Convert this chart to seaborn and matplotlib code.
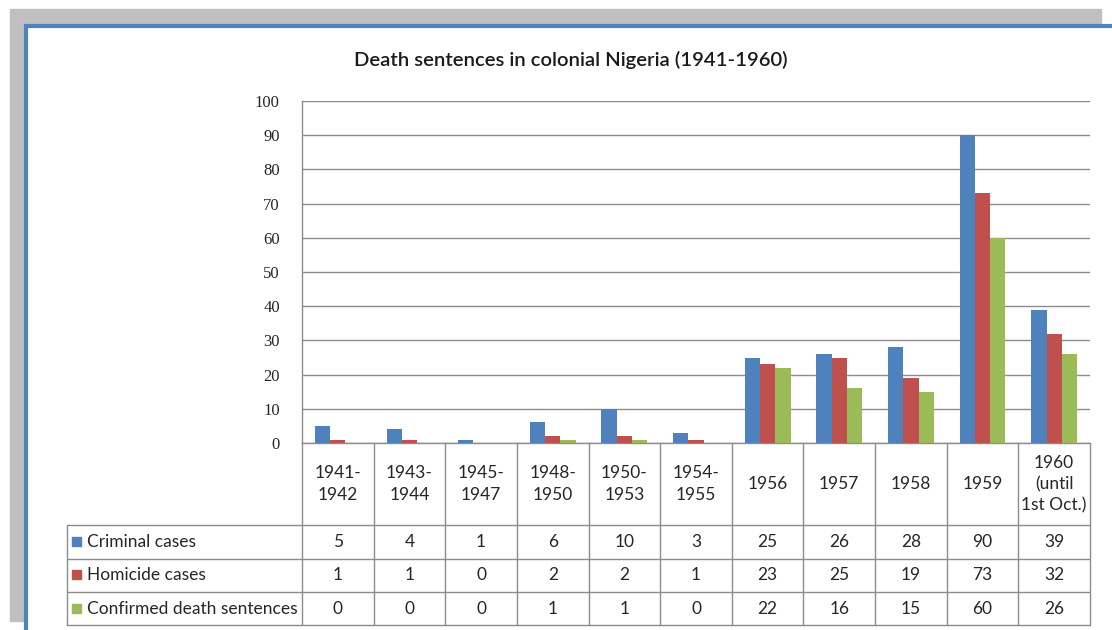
import pandas as pd
import matplotlib
matplotlib.use("Agg")
import matplotlib.pyplot as plt
import seaborn as sns
from matplotlib.patches import Rectangle

categories = ["1941-\n1942", "1943-\n1944", "1945-\n1947", "1948-\n1950", "1950-\n1953",
              "1954-\n1955", "1956", "1957", "1958", "1959", "1960\n(until\n1st Oct.)"]
criminal = [5, 4, 1, 6, 10, 3, 25, 26, 28, 90, 39]
homicide = [1, 1, 0, 2, 2, 1, 23, 25, 19, 73, 32]
confirmed = [0, 0, 0, 1, 1, 0, 22, 16, 15, 60, 26]
series_names = ["Criminal cases", "Homicide cases", "Confirmed death sentences"]
colors = ["#4f81bd", "#c0504d", "#9bbb59"]

df = pd.DataFrame({"cat": categories, series_names[0]: criminal,
                   series_names[1]: homicide, series_names[2]: confirmed})
long_df = df.melt(id_vars="cat", var_name="series", value_name="value")

sns.set_theme(style="white")
plt.rcParams["font.family"] = ["Lato", "DejaVu Sans"]

W, H = 1112, 630
fig = plt.figure(figsize=(W / 100, H / 100), dpi=100)

# background frame, in pixel coordinates
bg = fig.add_axes([0, 0, 1, 1])
bg.set_xlim(0, W)
bg.set_ylim(H, 0)
bg.axis("off")
bg.add_patch(Rectangle((10, 9), 1091, 612, color="#c0c0c0", zorder=0))
bg.add_patch(Rectangle((26, 26), W, H, facecolor="white", edgecolor="#4f81bd", lw=3, zorder=1))

# plot area
x0, x1, ytop, ybot = 302, 1090, 101, 443
ax = fig.add_axes([x0 / W, 1 - ybot / H, (x1 - x0) / W, (ybot - ytop) / H])
sns.barplot(data=long_df, x="cat", y="value", hue="series", palette=colors,
            width=0.64, saturation=1, linewidth=0, ax=ax, legend=False, zorder=3)
ax.set_ylim(0, 100)
ax.set_xlim(-0.5, len(categories) - 0.5)
ax.set_yticks(range(0, 101, 10))
ax.set_xticks([])
ax.set_xlabel("")
ax.set_ylabel("")
ax.yaxis.grid(True, color="#8c8c8c", lw=1)
ax.set_axisbelow(True)
ax.tick_params(axis="y", length=0, pad=16, labelsize=12)
for lab in ax.get_yticklabels():
    lab.set_fontfamily("Liberation Serif")
for s in ["top", "right"]:
    ax.spines[s].set_visible(False)
for s in ["left", "bottom"]:
    ax.spines[s].set_color("#8c8c8c")
    ax.spines[s].set_linewidth(1)
ax.patch.set_alpha(0)

bg.text(571, 60, "Death sentences in colonial Nigeria (1941-1960)", ha="center", va="center",
        fontsize=14.6, fontweight="semibold", color="#1a1a1a")

# data table below the plot
n = len(categories)
colw = (x1 - x0) / n
rows_y = [525, 558.5, 592, 625]
lc = "#8c8c8c"
for i in range(n + 1):
    bg.plot([x0 + i * colw] * 2, [ybot, rows_y[-1]], color=lc, lw=1, zorder=2)
for y in rows_y:
    bg.plot([67, x1], [y, y], color=lc, lw=1, zorder=2)
bg.plot([67, 67], [rows_y[0], rows_y[-1]], color=lc, lw=1, zorder=2)

for i, cat in enumerate(categories):
    bg.text(x0 + (i + 0.5) * colw, (ybot + rows_y[0]) / 2, cat, ha="center", va="center",
            fontsize=12.5, linespacing=1.4, zorder=3)

for r, (name, vals, col) in enumerate(zip(series_names, [criminal, homicide, confirmed], colors)):
    yc = (rows_y[r] + rows_y[r + 1]) / 2
    bg.add_patch(Rectangle((72, yc - 5), 9, 9, color=col, zorder=3))
    bg.text(87, yc, name, ha="left", va="center", fontsize=12.5, zorder=3)
    for i, v in enumerate(vals):
        bg.text(x0 + (i + 0.5) * colw, yc, str(v), ha="center", va="center",
                fontsize=12.5, zorder=3)

fig.savefig("out.png", dpi=100)
